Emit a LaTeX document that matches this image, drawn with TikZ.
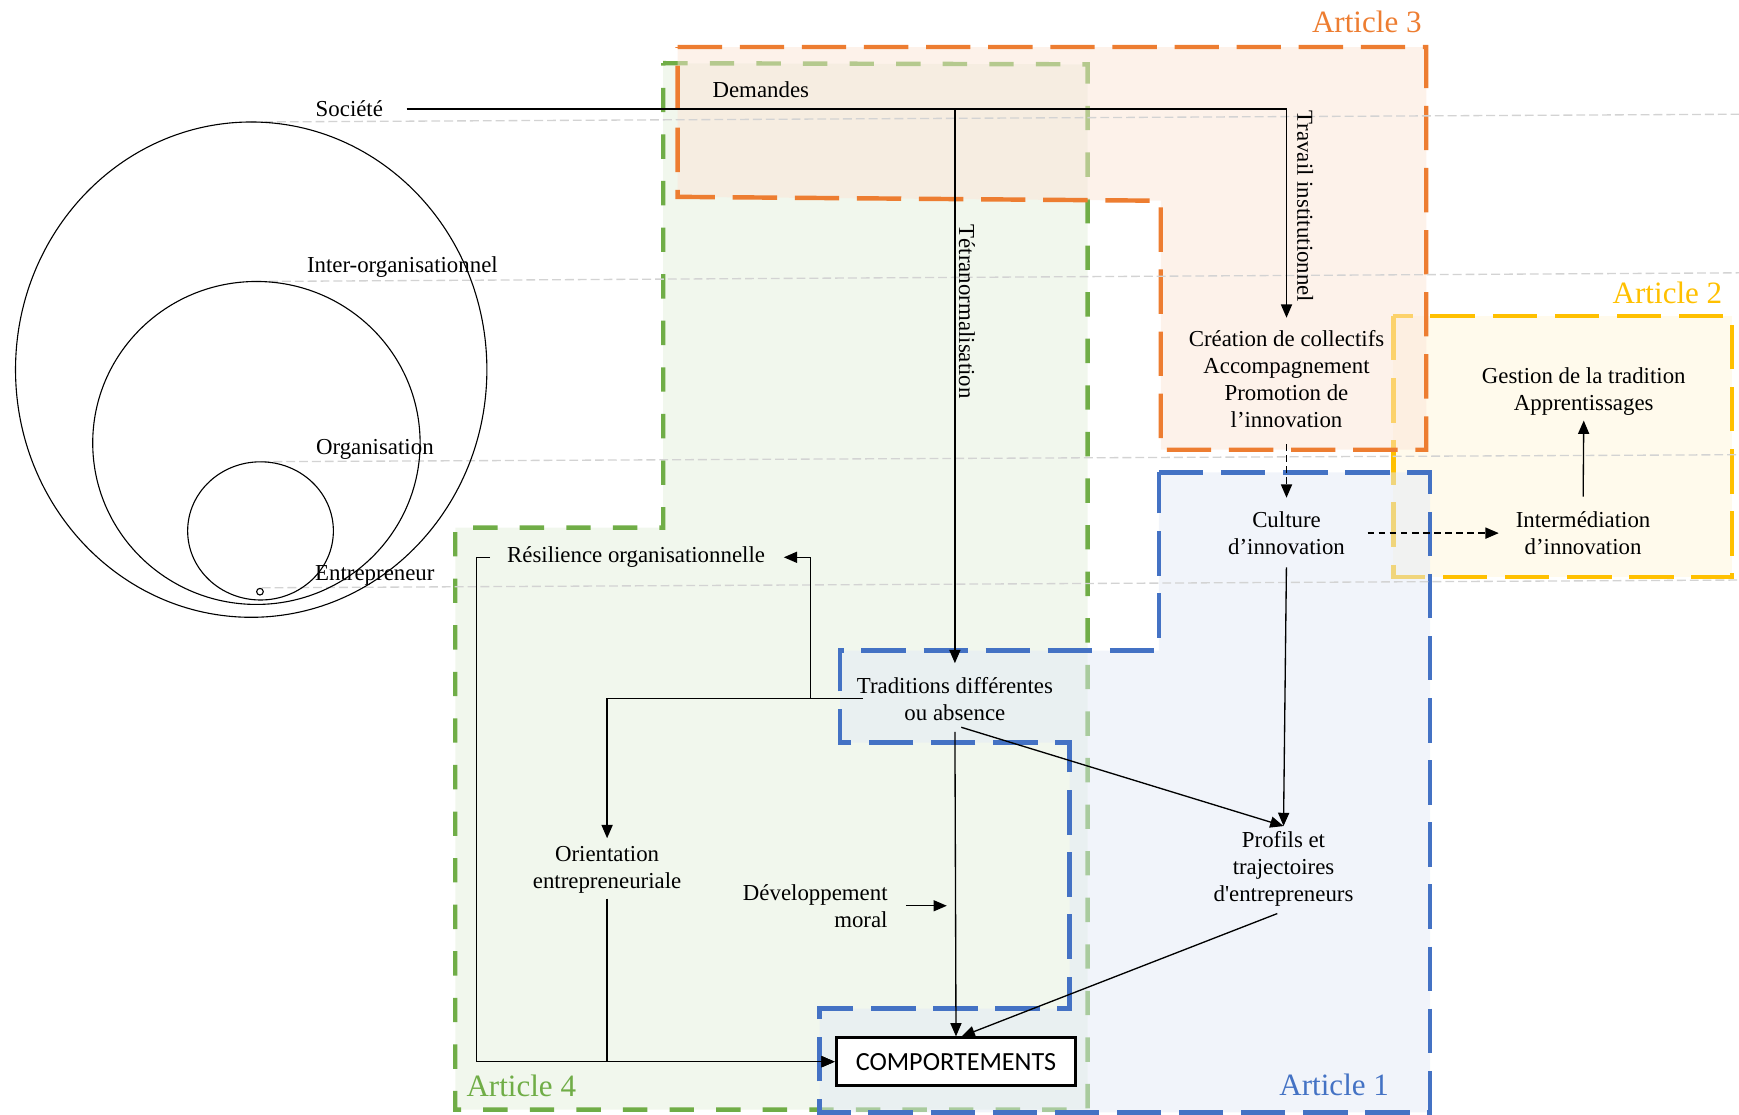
\documentclass[tikz,border=0pt]{standalone}
\usepackage{fontspec}
\setmainfont{Liberation Serif}
\newfontfamily\calibri{Carlito}
\usetikzlibrary{arrows.meta}
\definecolor{artorange}{HTML}{ED7D31}
\definecolor{artblue}{HTML}{4472C4}
\definecolor{artyellow}{HTML}{FFC000}
\definecolor{artgreen}{HTML}{70AD47}
\definecolor{levelgray}{HTML}{D3D3D3}
\begin{document}
\begin{tikzpicture}[x=0.5pt,y=-0.5pt,every node/.style={font=\fontsize{10.3}{12.25}\selectfont,align=center,inner sep=2pt},>={Triangle[length=6pt,width=5pt]}]
	\tikzstyle{article}=[line width=2pt,dash pattern=on 20pt off 8pt,fill opacity=0.5]
	\tikzstyle{artlabel}=[font=\fontsize{14}{16}\selectfont]
	\tikzstyle{level}=[levelgray,line width=0.6pt,dash pattern=on 4pt off 1.8pt]
	\tikzstyle{link}=[->,line width=0.6pt]
	\tikzstyle{vlab}=[rotate=-90,anchor=south,inner sep=1.5pt]
	\useasboundingbox (0,0) rectangle (1568,1005);
	\draw[article,artgreen,dash pattern=on 11pt off 10pt,fill=artgreen!10,fill opacity=1] (598,57) -- (980.6,58) -- (980.6,1000.5) -- (410.5,1000.5) -- (410.5,475.8) -- (598,475.8) -- cycle;
	\draw[article,artyellow,fill=artyellow!15] (1256.4,285) rectangle (1561.8,520.3);
	\draw[article,artorange,fill=artorange!20] (611,42.4) -- (1286,42.4) -- (1286,405.5) -- (1046.6,405.5) -- (1046.6,181) -- (611,177.5) -- cycle;
	\draw[article,artblue,fill=artblue!15] (1045,426) -- (1289.5,426) -- (1289.5,1003) -- (739,1003) -- (739,909.5) -- (964.5,909.5) -- (964.5,669.5) -- (757.5,669.5) -- (757.5,586.7) -- (1045,586.7) -- cycle;
	\draw[level] (226.5,110) -- (1568,103);
	\draw[level] (231,253.8) -- (1568,246);
	\draw[level] (234.9,416.3) -- (1568,410);
	\draw[level] (236,530) -- (1568,523);
	\draw[line width=0.5pt] (226.5,333.3) ellipse [x radius=106.25pt,y radius=111.65pt];
	\draw[line width=0.5pt] (231.2,399.4) ellipse [x radius=73.8pt,y radius=72.8pt];
	\draw[line width=0.5pt] (234.9,478.7) ellipse [x radius=32.85pt,y radius=31.15pt];
	\draw[line width=0.5pt] (234.4,533.5) circle [radius=1.5pt];
	\node (societe) at (315,98.2) {Société};
	\node (inter) at (362.8,240.8) {Inter-organisationnel};
	\node (organisation) at (338,405) {Organisation};
	\node (entrepreneur) at (338,518.5) {Entrepreneur};
	\node[artlabel,text=artorange] (art3) at (1232.4,20) {Article 3};
	\node[artlabel,text=artyellow] (art2) at (1503.5,264) {Article 2};
	\node[artlabel,text=artgreen] (art4) at (470,979) {Article 4};
	\node[artlabel,text=artblue] (art1) at (1203,978) {Article 1};
	\node (demandes) at (686,81) {Demandes};
	\node (creation) at (1160,342) {Création de collectifs\\Accompagnement\\Promotion de\\l’innovation};
	\node (gestion) at (1428,353.2) {Gestion de la tradition\\Apprentissages};
	\node (culture) at (1160,480.7) {Culture\\d’innovation};
	\node (intermed) at (1427.4,480.7) {Intermédiation\\d’innovation};
	\node (resilience) at (573.5,502.5) {Résilience organisationnelle};
	\node (traditions) at (861,630) {Traditions différentes\\ou absence};
	\node (orientation) at (547.4,784.5) {Orientation\\entrepreneuriale};
	\node[anchor=east,align=right] (developpement) at (804.7,816.7) {Développement\\moral};
	\node (profils) at (1157.3,783.2) {Profils et\\trajectoires\\d\textquotesingle entrepreneurs};
	\node[draw,line width=1.3pt,fill=white,minimum width=108pt,minimum height=21.5pt,font=\calibri\fontsize{11.8}{14}\selectfont] (comp) at (862,957.3) {COMPORTEMENTS};
	\coordinate (fork) at (731,630);
	\draw[link,shorten <=8.5pt,shorten >=3.5pt] (societe.east) -| node[vlab,pos=0.725,inner sep=4.5pt] {Travail institutionnel} (creation.north);
	\draw[link,shorten >=4pt] (societe.east -| traditions.north) -- node[vlab,pos=0.36] {Tétranormalisation} (traditions.north);
	\draw[link,densely dashed,shorten <=5pt,shorten >=4pt] (creation.south) -- (culture.north);
	\draw[link,densely dashed,shorten <=8pt,shorten >=5.5pt] (culture.east) -- (intermed.west);
	\draw[link,shorten <=4.5pt] (intermed.north) -- (gestion.south);
	\draw[link,shorten <=3.5pt] (culture.south) -- (profils.north);
	\draw[link,shorten <=3pt] (traditions.south) -- (profils.north);
	\draw[link,shorten <=3pt] (traditions.south) -- (comp.north);
	\draw[link,shorten <=3pt] (profils.south) -- ([xshift=2.5pt]comp.north);
	\draw[link,shorten <=-5pt,shorten >=6.3pt] (traditions.west) -- (fork) |- (resilience.east);
	\draw[link,shorten >=1.5pt] (fork) -| (orientation.north);
	\draw[link] (orientation.south) |- (comp.west);
	\draw[link,shorten <=5.5pt] (resilience.west) -- ++(-23,0) |- (comp.west);
	\draw[link,shorten <=6pt] (developpement.east) -- ++(49,0);
\end{tikzpicture}
\end{document}
